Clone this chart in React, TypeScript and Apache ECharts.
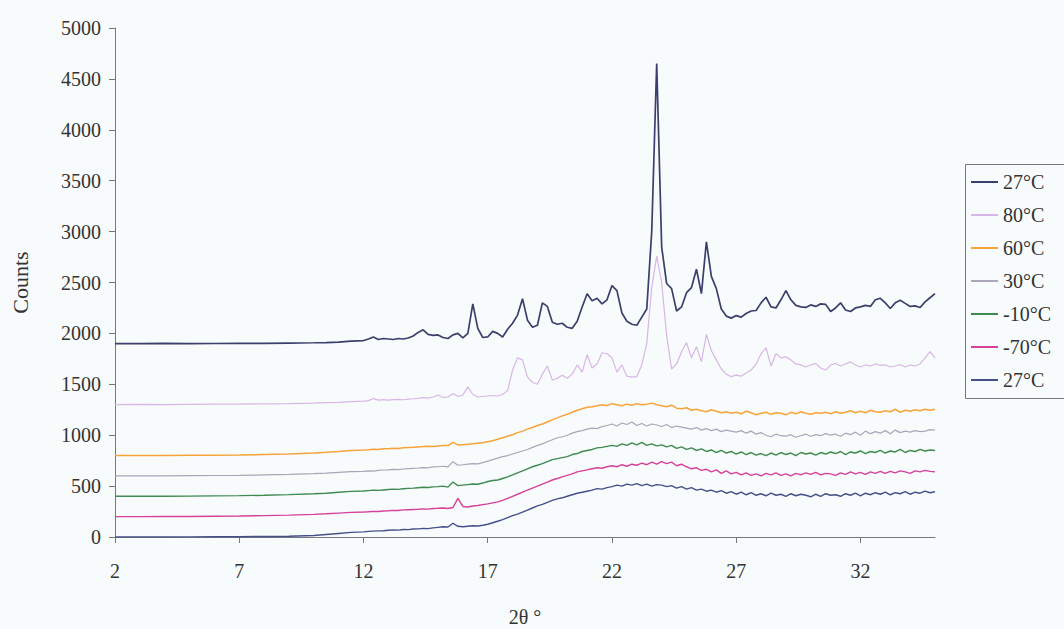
import React, { useEffect, useRef } from "react";
import * as echarts from "echarts";

// 2θ grid (degrees)
const twoTheta = [
  2, 3, 4, 5, 6, 7, 8, 9, 10, 10.5, 11, 11.5,
  12.0, 12.2, 12.4, 12.6, 12.8, 13.0, 13.2, 13.4, 13.6, 13.8,
  14.0, 14.2, 14.4, 14.6, 14.8, 15.0, 15.2, 15.4, 15.6, 15.8,
  16.0, 16.2, 16.4, 16.6, 16.8, 17.0, 17.2, 17.4, 17.6, 17.8,
  18.0, 18.2, 18.4, 18.6, 18.8, 19.0, 19.2, 19.4, 19.6, 19.8,
  20.0, 20.2, 20.4, 20.6, 20.8, 21.0, 21.2, 21.4, 21.6, 21.8,
  22.0, 22.2, 22.4, 22.6, 22.8, 23.0, 23.2, 23.4, 23.6, 23.8,
  24.0, 24.2, 24.4, 24.6, 24.8, 25.0, 25.2, 25.4, 25.6, 25.8,
  26.0, 26.2, 26.4, 26.6, 26.8, 27.0, 27.2, 27.4, 27.6, 27.8,
  28.0, 28.2, 28.4, 28.6, 28.8, 29.0, 29.2, 29.4, 29.6, 29.8,
  30.0, 30.2, 30.4, 30.6, 30.8, 31.0, 31.2, 31.4, 31.6, 31.8,
  32.0, 32.2, 32.4, 32.6, 32.8, 33.0, 33.2, 33.4, 33.6, 33.8,
  34.0, 34.2, 34.4, 34.6, 34.8, 35.0,
];

const xTickValues = [2, 7, 12, 17, 22, 27, 32];

const counts27Top = [
  1900, 1900, 1902, 1900, 1901, 1903, 1902, 1905, 1908, 1910, 1915, 1925,
  1930, 1945, 1965, 1940, 1950, 1945, 1940, 1950, 1945, 1955,
  1975, 2010, 2035, 1990, 1980, 1985, 1960, 1950, 1985, 2000,
  1955, 2000, 2290, 2050, 1960, 1965, 2020, 2000, 1965, 2040,
  2100, 2180, 2340, 2130, 2060, 2080, 2300, 2265, 2110, 2090,
  2100, 2060, 2050, 2120, 2260, 2390, 2320, 2345, 2290, 2330,
  2470, 2420, 2200, 2120, 2090, 2080, 2160, 2240, 3000, 4650,
  2850, 2490, 2440, 2220, 2260, 2400, 2450, 2630, 2390, 2900,
  2560, 2440, 2240, 2170, 2150, 2175, 2160, 2195, 2220, 2225,
  2300, 2355, 2260, 2250, 2330, 2420, 2330, 2275, 2260, 2255,
  2280, 2265, 2290, 2285, 2215, 2250, 2300, 2230, 2215, 2250,
  2260, 2275, 2265, 2330, 2345, 2300, 2245, 2300, 2325, 2295,
  2265, 2270, 2255, 2310, 2350, 2390,
];

const counts80 = [
  1300, 1302, 1300, 1303, 1305, 1306, 1308, 1310, 1315, 1320, 1322, 1330,
  1335, 1340, 1360, 1345, 1350, 1345, 1350, 1352, 1348, 1355,
  1358, 1362, 1370, 1365, 1375, 1395, 1370, 1375, 1410, 1380,
  1395, 1475, 1400, 1375, 1380, 1385, 1390, 1385, 1400, 1440,
  1640, 1760, 1740, 1570, 1520, 1500, 1600, 1680, 1540, 1560,
  1590, 1560, 1600, 1690, 1620, 1790, 1660, 1700, 1810, 1800,
  1760, 1620, 1690, 1580, 1570, 1575, 1690, 1900, 2450, 2760,
  2500, 1980, 1650, 1700, 1820, 1910, 1760, 1870, 1720, 1990,
  1830, 1740, 1650, 1600, 1575, 1590, 1580, 1610, 1640, 1700,
  1800, 1860, 1680, 1800, 1760, 1770, 1740, 1700, 1690, 1670,
  1690, 1705, 1660, 1640, 1690, 1705, 1680, 1700, 1720, 1690,
  1670, 1690, 1680, 1700, 1685, 1690, 1670, 1680, 1695, 1670,
  1690, 1680, 1700, 1760, 1820, 1760,
];

const counts60 = [
  800, 800, 801, 802, 803, 805, 810, 815, 825, 832, 840, 850,
  855, 858, 862, 860, 866, 868, 872, 870, 876, 880,
  882, 885, 888, 892, 890, 895, 900, 898, 930, 905,
  905, 910, 915, 920, 925, 935, 945, 960, 975, 990,
  1005, 1025, 1040, 1060, 1075, 1095, 1110, 1130, 1150, 1170,
  1190, 1205, 1225, 1245, 1260, 1275, 1280, 1290, 1300, 1290,
  1310, 1300, 1290, 1305, 1295, 1310, 1300, 1305, 1315, 1300,
  1290, 1280, 1295, 1265, 1260, 1270, 1245, 1255, 1240, 1230,
  1250, 1235, 1220, 1230, 1215, 1225, 1210, 1235, 1220, 1200,
  1215, 1225, 1205, 1220, 1215, 1200, 1225, 1210, 1230, 1215,
  1205, 1220, 1215, 1225, 1210, 1230, 1215, 1225, 1240, 1220,
  1235, 1220, 1245, 1230, 1225, 1240, 1230, 1255, 1225, 1245,
  1235, 1250, 1240, 1255, 1245, 1255,
];

const counts30 = [
  600, 600, 601, 603, 604, 606, 610, 615, 622, 628, 635, 642,
  645, 650, 648, 655, 658, 660, 665, 662, 668, 672,
  675, 678, 682, 680, 688, 690, 695, 688, 740, 705,
  710, 715, 720, 718, 730, 745, 760, 775, 790, 800,
  815, 830, 845, 860, 880, 900, 915, 935, 955, 975,
  985, 1000, 1020, 1035, 1045, 1060, 1070, 1065, 1085, 1095,
  1110, 1090, 1120, 1105, 1130, 1095, 1115, 1090, 1110, 1100,
  1085, 1105, 1075, 1090, 1080, 1070, 1060, 1075, 1050, 1065,
  1045, 1060, 1035, 1050, 1040, 1030, 1045, 1020, 1040, 1010,
  1025, 1000, 985, 1010, 995, 990, 1005, 980, 995, 1010,
  990, 1005, 995, 1015, 1000, 1010, 990, 1020, 1005, 1030,
  1000, 1040, 1015, 1035, 1020, 1045, 1015, 1050, 1025, 1040,
  1030, 1045, 1035, 1040, 1055, 1050,
];

const countsMinus10 = [
  400, 400, 401, 402, 404, 406, 410, 416, 425, 430, 440, 448,
  452, 456, 460, 458, 462, 466, 470, 468, 474, 478,
  480, 484, 488, 486, 492, 495, 500, 490, 540, 505,
  510, 515, 520, 518, 530, 545, 555, 560, 575, 590,
  610, 630, 650, 670, 690, 705, 720, 740, 760, 770,
  780, 790, 810, 820, 840, 850, 860, 875, 880, 890,
  900, 890, 915, 900, 925, 905, 930, 900, 915, 895,
  905, 885, 900, 870, 885, 860, 875, 850, 865, 840,
  855, 830, 850, 825, 840, 815, 835, 810, 830, 805,
  820, 800, 825, 805, 830, 810, 825, 800, 830, 815,
  825, 805, 830, 815, 835, 820, 840, 810, 835, 825,
  845, 820, 840, 830, 850, 825, 845, 835, 860, 830,
  850, 840, 860, 845, 855, 850,
];

const countsMinus70 = [
  200, 200, 201, 202, 204, 206, 210, 215, 222, 228, 235, 242,
  245, 248, 252, 250, 256, 258, 262, 260, 266, 268,
  270, 272, 276, 274, 280, 282, 285, 280, 290, 380,
  300, 295, 305, 310, 318, 325, 335, 345, 360, 380,
  400, 420, 440, 460, 480, 500, 520, 540, 560, 575,
  590, 605, 620, 640, 650, 660, 670, 680, 675, 690,
  700, 690, 710, 695, 715, 705, 725, 710, 735, 715,
  740, 720, 735, 700, 715, 690, 670, 680, 655, 665,
  640, 660, 625, 650, 620, 635, 610, 630, 605, 620,
  600, 625, 610, 630, 605, 620, 600, 625, 610, 630,
  615, 635, 610, 625, 620, 605, 630, 615, 640, 620,
  635, 615, 640, 625, 645, 625, 645, 630, 650, 640,
  625, 650, 640, 655, 645, 640,
];

const counts27Bottom = [
  0, 0, 0, 1, 2, 3, 5, 8, 15, 25, 35, 45,
  50, 55, 58, 60, 62, 66, 70, 68, 74, 72,
  78, 80, 85, 82, 90, 95, 100, 98, 135, 105,
  100, 105, 110, 108, 115, 125, 140, 155, 170, 190,
  210, 225, 245, 265, 285, 305, 320, 340, 360, 375,
  385, 400, 415, 430, 440, 450, 460, 475, 470, 485,
  495, 510, 500, 520, 510, 525, 505, 520, 500, 515,
  510, 495, 505, 480, 495, 470, 485, 460, 470, 450,
  460, 440, 455, 430, 445, 420, 440, 415, 435, 410,
  425, 405, 430, 410, 420, 400, 425, 405, 420, 410,
  395, 420, 400, 425, 410, 415, 400, 425, 410, 430,
  405, 430, 415, 435, 420, 440, 415, 435, 425, 445,
  420, 440, 430, 450, 435, 445,
];

const seriesNames = ["27°C#a", "80°C", "60°C", "30°C", "-10°C", "-70°C", "27°C#b"];
const seriesColors = ["#3b3f6c", "#d8b6e6", "#f6a33a", "#aaa5b9", "#3e8a50", "#d6409c", "#44508a"];
const seriesWidths = [1.7, 1.2, 1.5, 1.2, 1.4, 1.4, 1.4];
const seriesValues = [counts27Top, counts80, counts60, counts30, countsMinus10, countsMinus70, counts27Bottom];

const FONT = "'Liberation Serif', 'Times New Roman', serif";
const TEXT = "#333333";

export default function App() {
  const ref = useRef<HTMLDivElement>(null);
  useEffect(() => {
    if (!ref.current) return;
    const chart = echarts.init(ref.current, null, { renderer: "svg" });
    chart.setOption({
      animation: false,
      backgroundColor: "#f8fbfb",
      textStyle: { fontFamily: FONT },
      grid: {
        left: 115,
        right: 129,
        top: 28,
        bottom: 92,
        containLabel: false,
        outerBoundsMode: "none",
      },
      graphic: [
        {
          type: "rect",
          shape: { x: 965.5, y: 164.5, width: 140, height: 234 },
          style: { fill: "none", stroke: "#777777", lineWidth: 1 },
          silent: true,
        },
      ],
      legend: {
        orient: "vertical",
        left: 965,
        top: 164,
        icon: "rect",
        itemWidth: 27,
        itemHeight: 2,
        itemGap: 13,
        padding: [8, 6, 8, 6],
        borderWidth: 0,
        data: seriesNames,
        formatter: (name: string) => name.split("#")[0],
        textStyle: { fontFamily: FONT, fontSize: 20, lineHeight: 20, color: TEXT },
      },
      xAxis: {
        type: "value",
        min: 2,
        max: 35,
        name: "2θ °",
        nameLocation: "middle",
        nameGap: 70,
        nameTextStyle: { fontFamily: FONT, fontSize: 20, color: TEXT },
        axisLine: { show: true, lineStyle: { color: "#777777", width: 1 } },
        axisTick: { show: true, length: 6, customValues: xTickValues, lineStyle: { color: "#777777" } },
        axisLabel: { customValues: xTickValues, margin: 24, fontFamily: FONT, fontSize: 20, color: TEXT },
        splitLine: { show: false },
      },
      yAxis: {
        type: "value",
        min: 0,
        max: 5000,
        interval: 500,
        name: "Counts",
        nameLocation: "middle",
        nameRotate: 90,
        nameGap: 84,
        nameTextStyle: { fontFamily: FONT, fontSize: 22, color: TEXT },
        axisLine: { show: true, lineStyle: { color: "#777777", width: 1 } },
        axisTick: { show: true, length: 6, lineStyle: { color: "#777777" } },
        axisLabel: {
          margin: 14,
          fontFamily: FONT,
          fontSize: 20,
          color: TEXT,
          formatter: (v: number) => String(v),
        },
        splitLine: { show: false },
      },
      series: seriesNames.map((name, k) => ({
        name,
        type: "line",
        symbol: "none",
        color: seriesColors[k],
        lineStyle: { color: seriesColors[k], width: seriesWidths[k] },
        data: twoTheta.map((x, i) => [x, seriesValues[k][i]]),
      })),
    });
    return () => chart.dispose();
  }, []);
  return (
    <div
      ref={ref}
      style={{ position: "fixed", left: 0, top: 0, width: 1064, height: 629 }}
    />
  );
}
